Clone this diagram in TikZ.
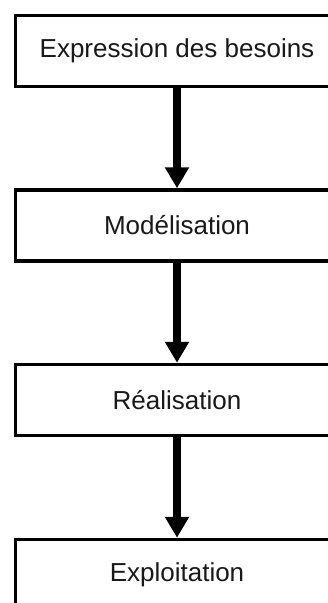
\documentclass[tikz,border=0pt]{standalone}
\usepackage{fontspec}
\setmainfont{Liberation Sans}
\usetikzlibrary{arrows.meta}
\begin{document}
\begin{tikzpicture}[x=1pt,y=-1pt,
  stagebox/.style={draw=black, line width=3.5pt, fill=white,
    minimum width=323pt, minimum height=71pt, inner sep=0pt,
    font=\fontsize{26}{30}\selectfont, text=black!90},
  flow/.style={line width=8pt, draw=black,
    -{Triangle[width=23pt,length=21pt]}}]
  \useasboundingbox (0,0) rectangle (328,603);
  \begin{scope}
    \clip (0,0) rectangle (328,603);
    \node[stagebox] (besoins) at (177,51) {Expression des besoins};
    \node[stagebox] (modele) at (177,225.5) {Modélisation};
    \node[stagebox] (real) at (177,400) {Réalisation};
    \node[stagebox] (exploit) at (177,575) {Exploitation};
    \draw[flow] (besoins.south) -- (modele.north);
    \draw[flow] (modele.south) -- (real.north);
    \draw[flow] (real.south) -- (exploit.north);
  \end{scope}
\end{tikzpicture}
\end{document}
